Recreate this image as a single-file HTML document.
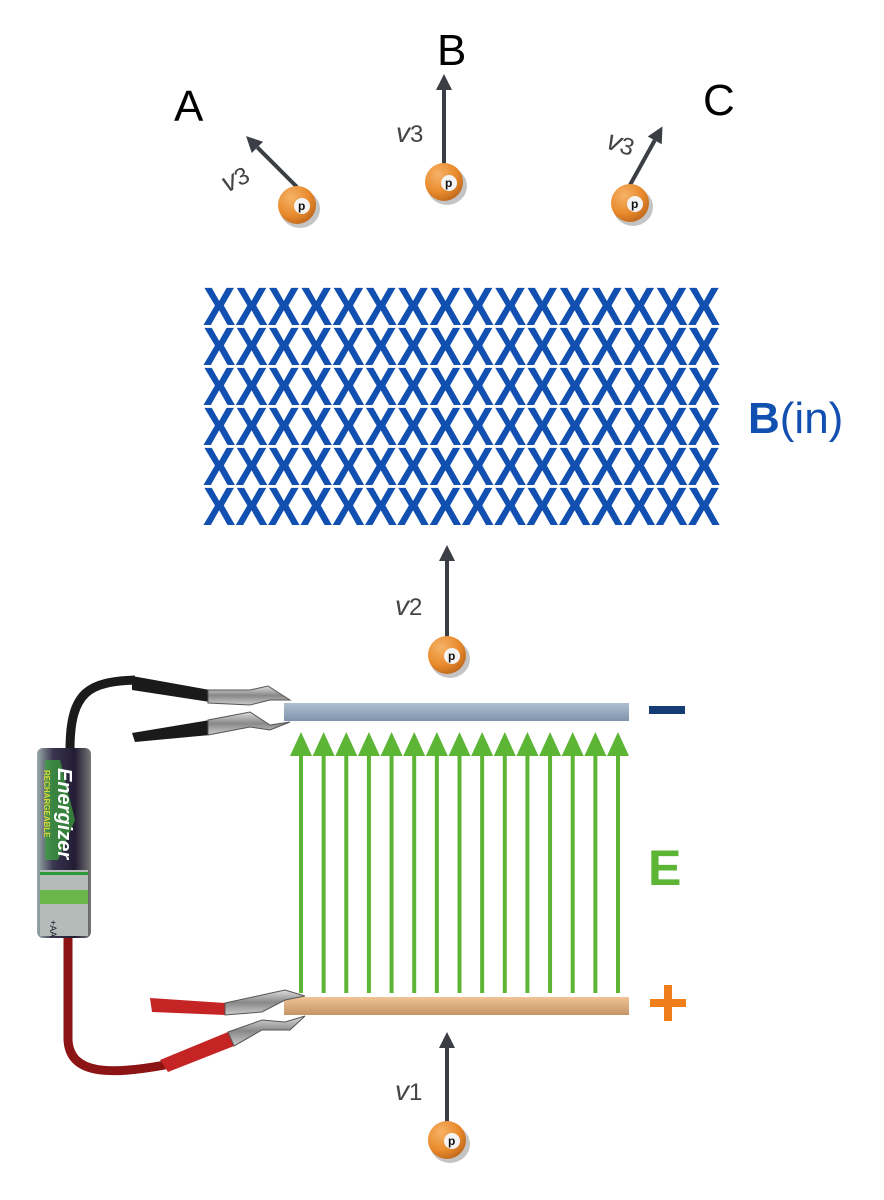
<!DOCTYPE html>
<html><head><meta charset="utf-8"><style>
html,body{margin:0;padding:0;background:#fff;}
svg{display:block;}
text{font-family:"Liberation Sans",sans-serif;}
</style></head><body>
<svg id="fig" width="884" height="1200" viewBox="0 0 884 1200">
<defs>
<radialGradient id="ball" cx="0.35" cy="0.3" r="0.8">
<stop offset="0" stop-color="#f6b267"/><stop offset="0.6" stop-color="#e88a2c"/><stop offset="1" stop-color="#b8621a"/></radialGradient>
<linearGradient id="blueplate" x1="0" y1="0" x2="0" y2="1"><stop offset="0" stop-color="#aebfd0"/><stop offset="1" stop-color="#7e93aa"/></linearGradient>
<linearGradient id="orangeplate" x1="0" y1="0" x2="0" y2="1"><stop offset="0" stop-color="#f0c494"/><stop offset="1" stop-color="#c49466"/></linearGradient>
<linearGradient id="batt" x1="0" y1="0" x2="1" y2="0"><stop offset="0" stop-color="#9aa"/><stop offset="0.3" stop-color="#3a3550"/><stop offset="0.7" stop-color="#221c33"/><stop offset="1" stop-color="#777"/></linearGradient>
<linearGradient id="metal" x1="0" y1="0" x2="0" y2="1"><stop offset="0" stop-color="#ddd"/><stop offset="0.5" stop-color="#888"/><stop offset="1" stop-color="#ccc"/></linearGradient>
</defs>

<g id="labels">
<text x="174" y="121" font-size="44" fill="#000">A</text>
<text x="437" y="65" font-size="44" fill="#000">B</text>
<text x="703" y="115" font-size="44" fill="#000">C</text>
</g>

<g id="xgrid"></g>
<g>
<text x="748" y="433" font-size="44" fill="#1150b0"><tspan font-weight="bold">B</tspan>(in)</text>
</g>

<g id="efield"></g>
<rect x="284" y="703" width="345" height="18" fill="url(#blueplate)"/>
<rect x="284" y="997" width="345" height="18" fill="url(#orangeplate)"/>
<rect x="649" y="706" width="36" height="8" fill="#163c74"/>
<g><rect x="650" y="999" width="36" height="8" fill="#ee7d1a"/><rect x="664" y="985" width="8" height="36" fill="#ee7d1a"/></g>
<text x="648" y="885" font-size="50" font-weight="bold" fill="#5db535">E</text>

<g>
<path d="M70 750 C70 690 90 682 135 680" stroke="#1b1b1b" stroke-width="9" fill="none"/>
<path d="M68 935 L68 1040 C70 1075 110 1075 165 1065" stroke="#8c1414" stroke-width="9" fill="none"/>
<path d="M132 676 L210 690 L210 702 L132 690 Z" fill="#1a1a1a"/>
<path d="M132 733 L210 720 L210 735 L135 742 Z" fill="#1a1a1a"/>
<path d="M208 690 L250 690 L268 686 L290 700 L270 700 L250 705 L208 703 Z" fill="url(#metal)" stroke="#555" stroke-width="1"/>
<path d="M208 720 L250 712 L270 725 L290 722 L270 730 L250 727 L208 735 Z" fill="url(#metal)" stroke="#555" stroke-width="1"/>
<path d="M150 998 L225 1003 L225 1015 L152 1012 Z" fill="#c52424"/>
<path d="M160 1060 L228 1032 L234 1046 L168 1072 Z" fill="#c52424"/>
<path d="M225 1003 L262 995 L285 990 L305 996 L285 1000 L262 1012 L225 1015 Z" fill="url(#metal)" stroke="#555" stroke-width="1"/>
<path d="M228 1032 L262 1020 L285 1022 L305 1016 L290 1030 L262 1030 L234 1046 Z" fill="url(#metal)" stroke="#555" stroke-width="1"/>
<rect x="37" y="748" width="54" height="190" rx="6" fill="url(#batt)"/>
<rect x="40" y="870" width="48" height="66" fill="#b5bbb8"/>
<rect x="40" y="872" width="48" height="3" fill="#2e9a3a"/>
<rect x="40" y="890" width="48" height="14" fill="#6bb84a"/>
<path d="M45 760 L60 760 L75 820 L58 860 L45 860 Z" fill="#3aa63a" opacity="0.7"/>
<text x="0" y="0" font-size="20" font-weight="bold" font-style="italic" fill="#fff" transform="translate(58 768) rotate(90)">Energizer</text>
<text x="0" y="0" font-size="8" font-weight="bold" fill="#ddd23a" transform="translate(44 770) rotate(90)">RECHARGEABLE</text>
<text x="0" y="0" font-size="9" fill="#223" transform="translate(50 920) rotate(90)">+AA</text>
</g>

<g id="protons"></g>
</svg>
<script>
const xCols = 16;
const xRows = 6;
const arrowCount = 15;
const protonLabels = ["A","B","C","v2","v1"];
const velocityAngles = [-45, 0, 29, 0, 0];

const NS = "http://www.w3.org/2000/svg";
function mk(tag, attrs, parent){const e=document.createElementNS(NS,tag);for(const k in attrs)e.setAttribute(k,attrs[k]);parent.appendChild(e);return e;}

// X grid
const xg = document.getElementById('xgrid');
for(let r=0;r<xRows;r++){
  const t = mk('text',{x:203,y:325+r*40,'font-size':'54','font-weight':'600','fill':'#1150b0','textLength':'517','lengthAdjust':'spacingAndGlyphs'},xg);
  
  
  t.textContent = 'X'.repeat(xCols);
}

// E field arrows
const ef = document.getElementById('efield');
const x0=301, x1=618;
for(let i=0;i<arrowCount;i++){
  const x = x0 + (x1-x0)*i/(arrowCount-1);
  const g = mk('g',{},ef);
  
  
  mk('rect',{x:x-2,y:752,width:4,height:241,fill:'#5db535'},g);
  mk('path',{d:`M${x-11} 756 L${x} 732 L${x+11} 756 Z`,fill:'#5db535'},g);
}

// protons
const pg = document.getElementById('protons');
const ballPos = [[297,205],[444,182],[630,203],[447,655],[447,1140]];
const arrowLen = [72, 90, 67, 92, 90];
const subs = ["3","3","3","2","1"];
const labelOffs = [[-70,-12],[-48,-40],[-25,-55],[-52,-40],[-52,-40]];
for(let i=0;i<protonLabels.length;i++){
  const [cx,cy]=ballPos[i];
  const a = velocityAngles[i]*Math.PI/180;
  const g = mk('g',{},pg);
  
  
  const sx=cx, sy=cy-18;
  const ex=sx+Math.sin(a)*arrowLen[i], ey=sy-Math.cos(a)*arrowLen[i];
  const bx=sx+Math.sin(a)*(arrowLen[i]-16), by=sy-Math.cos(a)*(arrowLen[i]-16);
  mk('line',{x1:sx,y1:sy,x2:bx,y2:by,stroke:'#3b3e44','stroke-width':4},g);
  const px=Math.cos(a)*8, py=Math.sin(a)*8;
  mk('path',{d:`M${ex} ${ey} L${bx+px} ${by+py} L${bx-px} ${by-py} Z`,fill:'#3b3e44'},g);
  mk('ellipse',{cx:cx+3,cy:cy+4,rx:20,ry:19,fill:'#555',opacity:'0.35'},g);
  mk('circle',{cx:cx,cy:cy,r:19,fill:'url(#ball)'},g);
  mk('circle',{cx:cx+5,cy:cy+1,r:8,fill:'#f4f4f4'},g);
  const pt=mk('text',{x:cx+1,y:cy+5,'font-size':'12','font-weight':'bold',fill:'#111'},g);
  pt.textContent='p';
  const lx=cx+labelOffs[i][0], ly=cy+labelOffs[i][1];
  const lt=mk('text',{x:lx,y:ly,'font-size':'28','font-style':'italic','font-family':'Liberation Serif, serif',fill:'#444',transform:`rotate(${velocityAngles[i]*0.6} ${lx} ${ly})`},g);
  lt.innerHTML='v<tspan font-style="normal" font-size="24">'+subs[i]+'</tspan>';
}
</script>
</body></html>
